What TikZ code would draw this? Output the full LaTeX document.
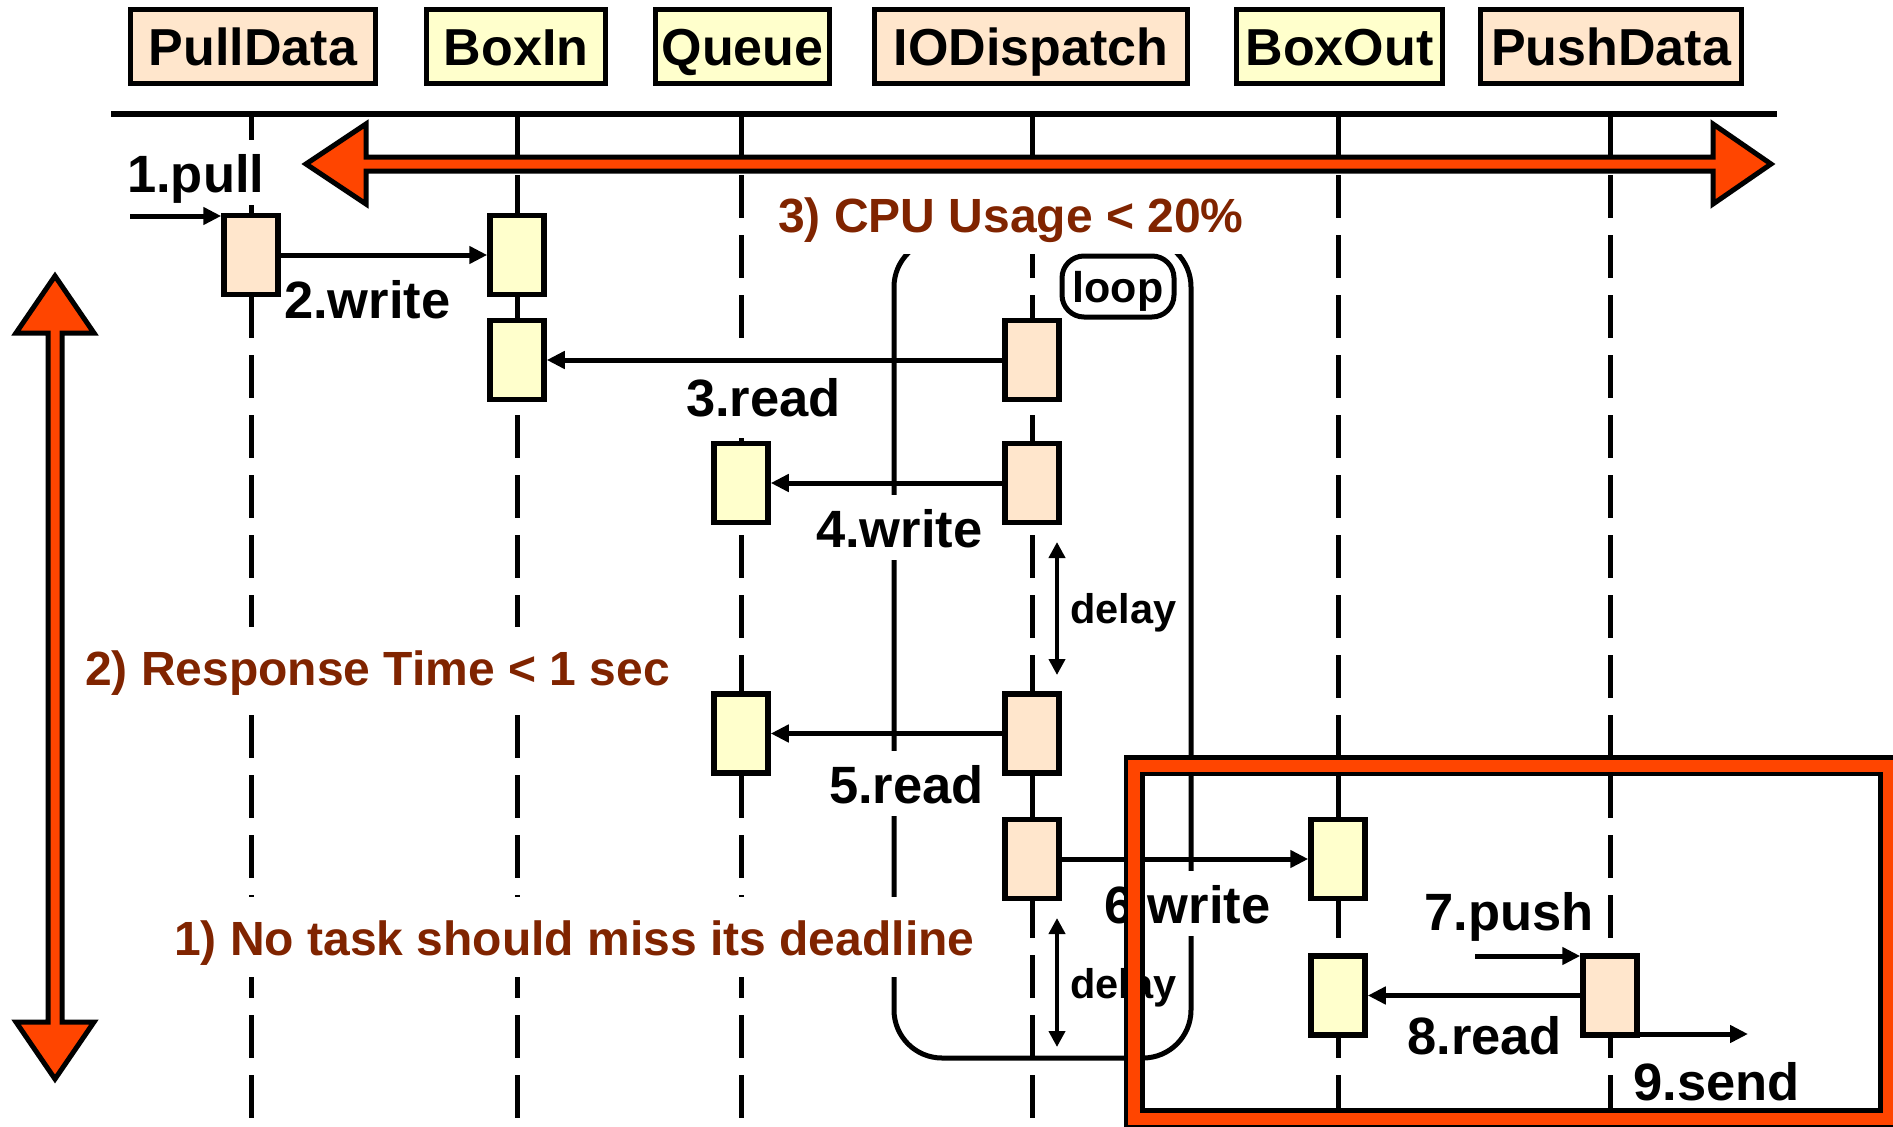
\documentclass[tikz,border=0pt]{standalone}
\usepackage{fontspec}
\setmainfont{Liberation Sans}
\usetikzlibrary{arrows.meta}
\definecolor{peach}{RGB}{255,230,204}
\definecolor{paleyellow}{RGB}{255,255,204}
\definecolor{alarm}{RGB}{255,69,0}
\definecolor{rust}{RGB}{128,36,0}
\begin{document}
\begin{tikzpicture}[x=1pt,y=-1pt,
  hdr/.style={draw,line width=5pt,inner sep=0pt,minimum height=74pt,
    text height=37.5pt,text depth=0pt,font=\fontsize{52}{60}\selectfont\bfseries},
  lifeline/.style={line width=5pt,dash pattern=on 43pt off 17pt},
  act/.style={draw,line width=5.5pt,minimum width=54pt,minimum height=79pt,inner sep=0pt},
  msg/.style={line width=5pt,-{Triangle[length=18pt,width=17pt]}},
  lbl/.style={anchor=base west,xshift=-8pt,fill=white,inner xsep=8pt,inner ysep=0pt,
    text height=52pt,text depth=13pt,font=\fontsize{52.5}{60}\selectfont\bfseries},
  goal/.style={anchor=base west,xshift=-8pt,fill=white,inner xsep=8pt,inner ysep=0pt,
    text height=58pt,text depth=22pt,text=rust,font=\fontsize{48}{56}\selectfont\bfseries},
  note/.style={anchor=base west,inner sep=0pt,font=\fontsize{41.5}{48}\selectfont\bfseries},
  delayarrow/.style={line width=4pt,{Triangle[length=16pt,width=16pt]}-{Triangle[length=16pt,width=16pt]}},
  bigarrow/.style={fill=alarm,draw=black,line width=5pt,line join=miter}
]
\useasboundingbox (0,0) rectangle (1893,1127);

% participants
\node[hdr,fill=peach,minimum width=245pt] (hPull) at (253,46.5) {PullData};
\node[hdr,fill=paleyellow,minimum width=179pt] (hBoxIn) at (516,46.5) {BoxIn};
\node[hdr,fill=paleyellow,minimum width=174pt] (hQueue) at (742.5,46.5) {Queue};
\node[hdr,fill=peach,minimum width=313pt] (hIO) at (1031,46.5) {IODispatch};
\node[hdr,fill=paleyellow,minimum width=206pt] (hBoxOut) at (1339.5,46.5) {BoxOut};
\node[hdr,fill=peach,minimum width=261pt] (hPush) at (1611,46.5) {PushData};

% separator rule
\draw[line width=5.5pt] (111,114) -- (1777,114);

% lifelines
\foreach \x in {251,517,741,1032,1338,1610}
  \draw[lifeline] (\x,115) -- (\x,1135);

% loop frame
\draw[line width=5pt,rounded corners=48pt] (894,239) rectangle (1191,1058);

% constraints
\node[goal] (gResp) at (85,685) {2) Response Time < 1 sec};
\node[goal] (gDead) at (174,955) {1) No task should miss its deadline};
\node[goal] (gCPU) at (778,232) {3) CPU Usage < 20\%};

% loop tag
\node[draw,fill=white,line width=5pt,rounded corners=22pt,minimum width=112pt,
  minimum height=61pt,inner sep=0pt,text height=32pt,text depth=0pt,
  font=\fontsize{43}{50}\selectfont\bfseries] (tagLoop) at (1118,286.5) {loop};

% message labels
\node[lbl] (l1) at (127,192) {1.pull};
\node[lbl] (l2) at (284,318) {2.write};
\node[lbl,text height=61pt,text depth=22pt] (l3) at (686,416) {3.read};
\node[lbl] (l4) at (816,547) {4.write};
\node[lbl] (l5) at (829,803) {5.read};
\node[lbl] (l6) at (1104,923) {6.write};
\node[lbl] (l7) at (1424,930) {7.push};
\node[lbl] (l8) at (1407,1054) {8.read};
\node[lbl] (l9) at (1633,1100) {9.send};

% activations
\node[act,fill=peach] (pd1) at (251,255) {};
\node[act,fill=paleyellow] (bi1) at (517,255) {};
\node[act,fill=paleyellow] (bi2) at (517,360) {};
\node[act,fill=peach] (io1) at (1032,360) {};
\node[act,fill=paleyellow] (q1) at (741,483) {};
\node[act,fill=peach] (io2) at (1032,483) {};
\node[act,fill=paleyellow] (q2) at (741,733.5) {};
\node[act,fill=peach] (io3) at (1032,733.5) {};
\node[act,fill=peach] (io4) at (1032,859) {};
\node[act,fill=paleyellow] (bo1) at (1338,859) {};
\node[act,fill=paleyellow] (bo2) at (1338,995.5) {};
\node[act,fill=peach] (ps1) at (1610,995.5) {};

% messages
\coordinate (pullSrc) at (130,216);
\coordinate (pushSrc) at (1475,956);
\coordinate (sendDst) at (1748,1034);
\draw[msg] (pullSrc) -- (pullSrc -| pd1.west);
\draw[msg] (pd1.east) -- (bi1.west);
\draw[msg] (io1.west) -- (bi2.east);
\draw[msg] (io2.west) -- (q1.east);
\draw[msg] (io3.west) -- (q2.east);
\draw[msg] (io4.east) -- (bo1.west);
\draw[msg] (pushSrc) -- (pushSrc -| ps1.west);
\draw[msg] (ps1.west) -- (bo2.east);
\draw[msg] (sendDst -| ps1.east) -- (sendDst);

% delays
\coordinate (d1a) at (1057,542);
\coordinate (d1b) at (1057,675);
\coordinate (d2a) at (1057,918);
\coordinate (d2b) at (1057,1047);
\draw[delayarrow] (d1a) -- (d1b);
\draw[delayarrow] (d2a) -- (d2b);
\node[note] (n1) at (1070,623) {delay};
\node[note] (n2) at (1070,998) {delay};

% span arrows
\draw[bigarrow] (306,164) -- (366,124) -- (366,157) -- (1713,157) -- (1713,124)
  -- (1771,164) -- (1713,204) -- (1713,171) -- (366,171) -- (366,204) -- cycle;
\draw[bigarrow] (55,276) -- (94,333) -- (62,333) -- (62,1022) -- (94,1022)
  -- (55,1079) -- (16,1022) -- (48,1022) -- (48,333) -- (16,333) -- cycle;

% highlighted region
\draw[line width=21pt,line join=miter] (1134,765.5) rectangle (1888.5,1118.5);
\draw[line width=12pt,line join=miter,alarm] (1134,765.5) rectangle (1888.5,1118.5);
\end{tikzpicture}
\end{document}
